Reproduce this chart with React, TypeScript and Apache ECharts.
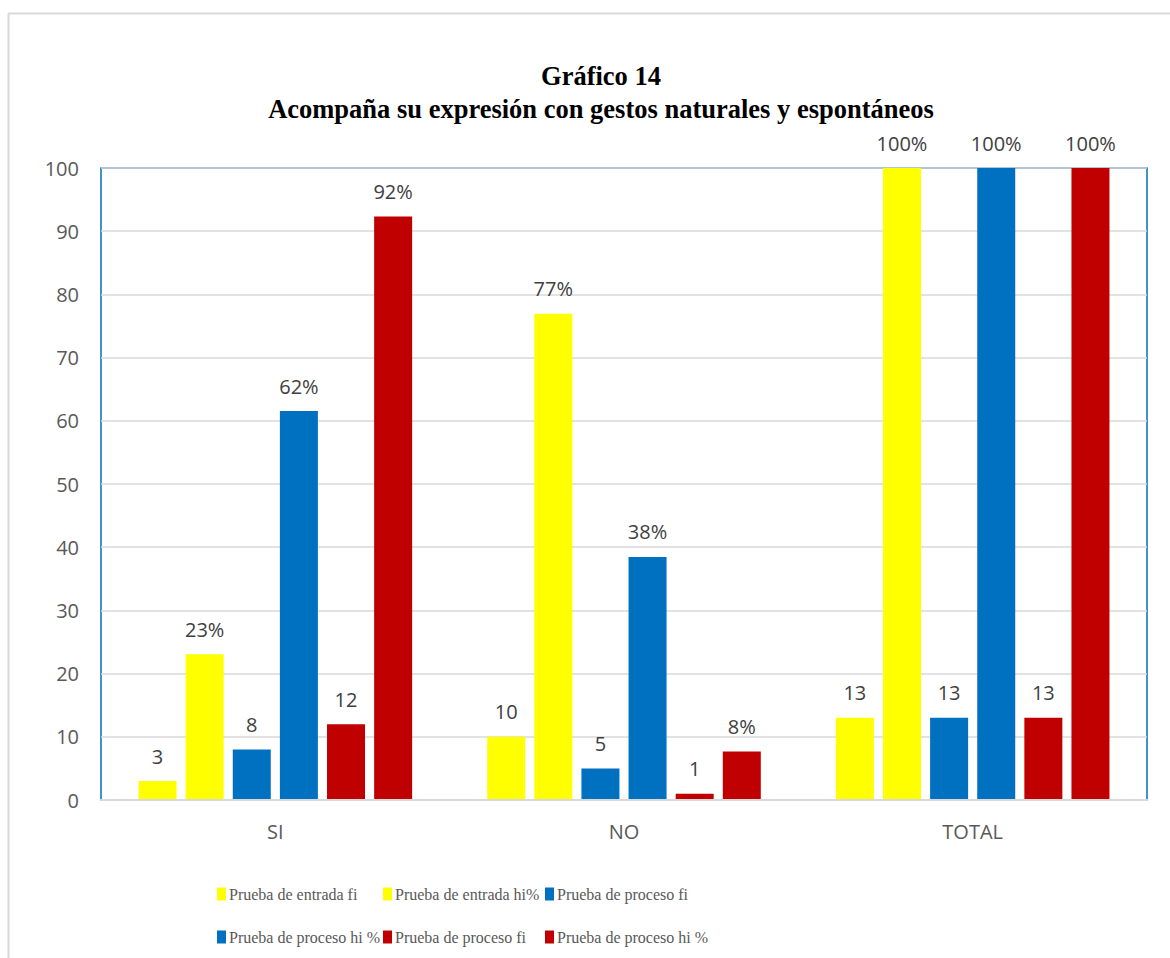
import React, { useEffect, useRef } from "react";
import * as echarts from "echarts";

const categories = ["SI", "NO", "TOTAL"];
const entradaFi = [3, 10, 13];
const entradaHi = [23.08, 76.92, 100];
const procesoFiA = [8, 5, 13];
const procesoHiA = [61.54, 38.46, 100];
const procesoFiB = [12, 1, 13];
const procesoHiB = [92.31, 7.69, 100];

const seriesKeys = ["s1", "s2", "s3", "s4", "s5", "s6"];
const seriesLabels = [
  "Prueba de entrada fi",
  "Prueba de entrada hi%",
  "Prueba de proceso fi",
  "Prueba de proceso hi %",
  "Prueba de proceso fi",
  "Prueba de proceso hi %",
];
const seriesData = [entradaFi, entradaHi, procesoFiA, procesoHiA, procesoFiB, procesoHiB];
const seriesIsPercent = [false, true, false, true, false, true];
const seriesColors = ["#FFFF00", "#FFFF00", "#0070C0", "#0070C0", "#C00000", "#C00000"];

const yTicks = { min: 0, max: 100, interval: 10 };

const legendPos = [
  { left: 217, top: 886 },
  { left: 383, top: 886 },
  { left: 545, top: 886 },
  { left: 217, top: 929 },
  { left: 383, top: 929 },
  { left: 545, top: 929 },
];

const SANS = "'Open Sans', sans-serif";
const SERIF = "'Times New Roman', 'Liberation Serif', serif";

export default function App() {
  const ref = useRef<HTMLDivElement>(null);
  useEffect(() => {
    if (!ref.current) return;
    const chart = echarts.init(ref.current, undefined, { renderer: "svg" });
    const option: any = {
      animation: false,
      backgroundColor: "#ffffff",
      title: {
        text: "Gráfico 14\nAcompaña su expresión con gestos naturales y espontáneos",
        left: 596,
        textAlign: "center",
        top: 54,
        textStyle: {
          fontFamily: SERIF,
          fontWeight: "bold",
          fontSize: 26.5,
          color: "#000000",
          lineHeight: 33,
        },
      },
      grid: {
        left: 101,
        right: 23,
        top: 168,
        bottom: 158,
        show: true,
        borderColor: "#0070C0",
        borderWidth: 1.5,
        backgroundColor: "transparent",
      },
      legend: seriesKeys.map((k, i) => ({
        data: [{ name: k, icon: "rect" }],
        left: legendPos[i].left,
        top: legendPos[i].top,
        padding: 0,
        itemWidth: 9,
        itemHeight: 13,
        formatter: () => seriesLabels[i],
        textStyle: { fontFamily: SERIF, fontSize: 16, color: "#595959", padding: [0, 0, 0, -2] },
        selectedMode: false,
      })),
      xAxis: {
        type: "category",
        data: categories,
        z: 5,
        axisLine: { show: true, lineStyle: { color: "#d9d9d9", width: 2 } },
        axisTick: { show: false },
        axisLabel: { fontFamily: SANS, fontSize: 20, color: "#595959", margin: 21 },
      },
      yAxis: {
        type: "value",
        min: yTicks.min,
        max: yTicks.max,
        interval: yTicks.interval,
        axisLine: { show: false },
        axisTick: { show: false },
        axisLabel: { fontFamily: SANS, fontSize: 20, color: "#595959", margin: 22 },
        splitLine: { show: true, lineStyle: { color: "#d9d9d9", width: 1.5 } },
      },
      series: seriesKeys.map((k, i) => ({
        name: k,
        type: "bar",
        data: seriesData[i],
        barWidth: 38,
        barGap: "24%",
        itemStyle: { color: seriesColors[i] },
        label: {
          show: true,
          position: "top",
          distance: 15,
          fontFamily: SANS,
          fontSize: 20,
          color: "#404040",
          formatter: (p: any) =>
            seriesIsPercent[i] ? Math.round(p.value) + "%" : String(p.value),
        },
      })),
      graphic: [
        {
          type: "line",
          shape: { x1: 8, y1: 13.5, x2: 1170, y2: 13.5 },
          style: { stroke: "#d9d9d9", lineWidth: 2 },
        },
        {
          type: "line",
          shape: { x1: 8.5, y1: 13, x2: 8.5, y2: 958 },
          style: { stroke: "#d9d9d9", lineWidth: 2 },
        },
      ],
    };
    chart.setOption(option);
    return () => chart.dispose();
  }, []);
  return (
    <div
      ref={ref}
      style={{ position: "fixed", left: 0, top: 0, width: 1170, height: 958 }}
    />
  );
}
